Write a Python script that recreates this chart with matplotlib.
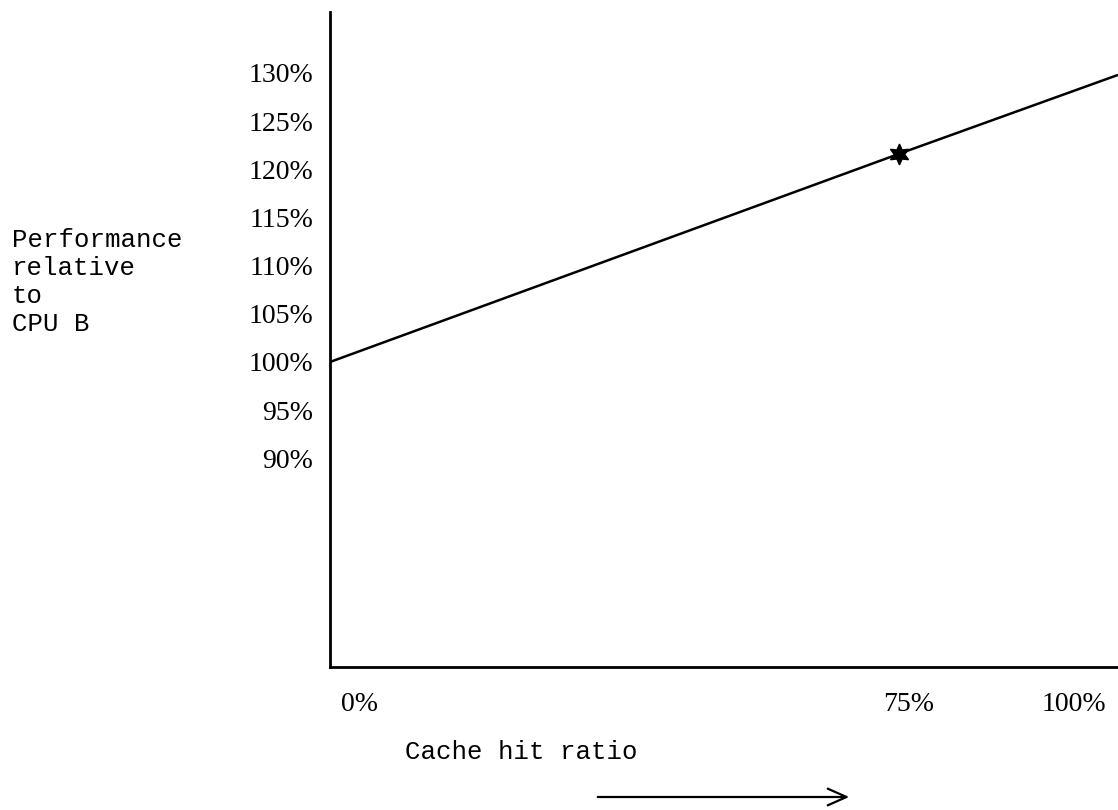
import numpy as np
import matplotlib.pyplot as plt
from matplotlib.transforms import ScaledTranslation

# data
hit_ratio = [0, 75, 103.9]          # cache hit ratio, %
performance = [100, 121.6, 129.8]   # performance relative to CPU B, %
star_x = 75
star_y = 121.6

y_ticks = [90, 95, 100, 105, 110, 115, 120, 125, 130]
y_labels = ["90%", "95%", "100%", "105%", "110%", "115%", "120%", "125%", "130%"]
x_ticks = [0, 75, 100]
x_labels = ["0%", "75%", "100%"]

W, H = 1118, 810
fig = plt.figure(figsize=(W / 100, H / 100), dpi=100)
ax = fig.add_axes([330 / W, (H - 667) / H, (W - 330) / W, (667 - 12) / H])

ax.plot(hit_ratio, performance, color="black", lw=1.8, solid_capstyle="butt")
ax.plot(star_x, star_y, marker=(6, 1, 0), color="black", markersize=15)

ax.set_xlim(0, 103.9)
ax.set_ylim(68.34, 136.33)

for s in ["top", "right"]:
    ax.spines[s].set_visible(False)
for s in ["left", "bottom"]:
    ax.spines[s].set_linewidth(2.0)

serif = "Liberation Serif"
mono = "Liberation Mono"

ax.set_yticks(y_ticks)
ax.set_yticklabels(y_labels, fontsize=20, family=serif)
ax.tick_params(axis="y", length=0, pad=12)

ax.set_xticks(x_ticks)
ax.set_xticklabels(x_labels, fontsize=20, family=serif)
ax.tick_params(axis="x", which="major", length=0, pad=18)
ax.set_xticks([75], minor=True)
ax.tick_params(axis="x", which="minor", length=17, width=1.8, direction="inout")

# typed labels sit a little off their tick positions
shifts = [30, 10, -14]
for lab, dx in zip(ax.get_xticklabels(), shifts):
    lab.set_transform(lab.get_transform() + ScaledTranslation(dx / 100, 0, fig.dpi_scale_trans))

fig.text(12 / W, 1 - 282 / H, "Performance\nrelative\nto\nCPU B",
         family=mono, fontsize=18.5, ha="left", va="center", linespacing=1.2)
fig.text(405 / W, 1 - 752 / H, "Cache hit ratio",
         family=mono, fontsize=18.5, ha="left", va="center")

ax.annotate("", xy=(852 / W, 1 - 797 / H), xytext=(595 / W, 1 - 797 / H),
            xycoords="figure fraction", textcoords="figure fraction",
            arrowprops=dict(arrowstyle="->,head_length=1.35,head_width=0.6",
                            color="black", lw=1.6))

fig.savefig("out.png", dpi=100, facecolor="white")
